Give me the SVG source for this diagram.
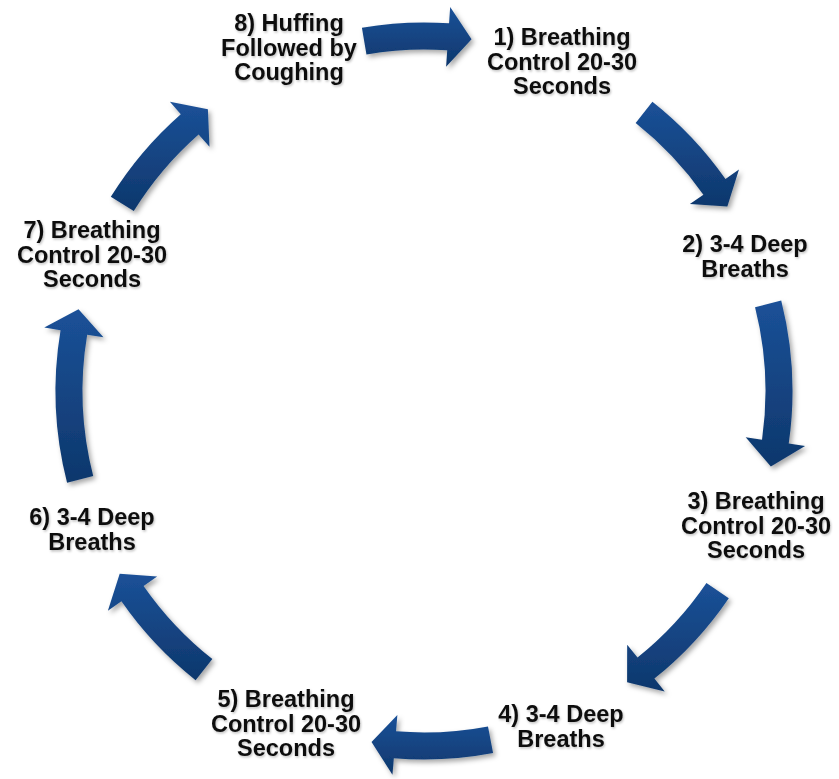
<svg xmlns="http://www.w3.org/2000/svg" width="839" height="779" viewBox="0 0 839 779">
<defs>
<linearGradient id="g" x1="0" y1="0" x2="0" y2="1">
<stop offset="0" stop-color="#1b5198"/>
<stop offset="1" stop-color="#0e376c"/>
</linearGradient>
<filter id="sh" x="-20%" y="-20%" width="140%" height="140%">
<feDropShadow dx="2.5" dy="3" stdDeviation="2.5" flood-color="#000" flood-opacity="0.35"/>
</filter>
<filter id="ts" x="-5%" y="-10%" width="110%" height="120%">
<feDropShadow dx="1" dy="1.5" stdDeviation="1" flood-color="#000" flood-opacity="0.25"/>
</filter>
</defs>
<style>
.arr{fill:url(#g);filter:url(#sh)}
.t{font-family:"Liberation Sans",Arial,sans-serif;font-weight:bold;font-size:23.5px;fill:#111;text-anchor:middle;filter:url(#ts)}
</style>
<rect width="839" height="779" fill="#fff"/>
<g id="connectors">
<path class="arr" d="M361.91,27.77 A368.5,368.5 0 0 1 449.06,23.35 L450.18,6.89 L471.57,39.2 L446.1,66.75 L447.22,50.29 A341.5,341.5 0 0 0 366.46,54.38 Z"/>
<path class="arr" d="M652.4,101.8 A368.5,368.5 0 0 1 725.47,179.11 L738.97,169.62 L727.35,206.58 L689.88,204.12 L703.38,194.64 A341.5,341.5 0 0 0 635.66,122.99 Z"/>
<path class="arr" d="M781.22,300.61 A368.5,368.5 0 0 1 788.74,443.55 L805.07,445.9 L770.84,466.62 L745.69,437.35 L762.02,439.7 A341.5,341.5 0 0 0 755.05,307.23 Z"/>
<path class="arr" d="M728.79,598.13 A368.5,368.5 0 0 1 654.39,678.58 L664.7,691.45 L627.1,682.17 L627.19,644.63 L637.51,657.51 A341.5,341.5 0 0 0 706.45,582.96 Z"/>
<path class="arr" d="M493.06,752.98 A368.5,368.5 0 0 1 393.82,758.25 L392.47,774.69 L371.53,742.1 L397.38,714.9 L396.03,731.34 A341.5,341.5 0 0 0 488,726.45 Z"/>
<path class="arr" d="M195.6,680.2 A368.5,368.5 0 0 1 121.42,601.3 L107.88,610.72 L119.69,573.83 L157.14,576.48 L143.59,585.89 A341.5,341.5 0 0 0 212.34,659.01 Z"/>
<path class="arr" d="M67.07,482.65 A368.5,368.5 0 0 1 60.55,330.2 L44.27,327.47 L78.51,309.35 L103.45,337.37 L87.18,334.65 A341.5,341.5 0 0 0 93.22,475.93 Z"/>
<path class="arr" d="M110.81,196.8 A368.5,368.5 0 0 1 180.79,114.15 L169.9,101.75 L207.88,109.34 L209.5,146.83 L198.61,134.43 A341.5,341.5 0 0 0 133.76,211.03 Z"/>
</g>
<g id="n1"><text class="t"><tspan x="562" y="45">1) Breathing</tspan><tspan x="562" y="69.5">Control 20-30</tspan><tspan x="562" y="94">Seconds</tspan></text></g>
<g id="n2"><text class="t"><tspan x="745" y="252">2) 3-4 Deep</tspan><tspan x="745" y="276.5">Breaths</tspan></text></g>
<g id="n3"><text class="t"><tspan x="756" y="509">3) Breathing</tspan><tspan x="756" y="533.5">Control 20-30</tspan><tspan x="756" y="558">Seconds</tspan></text></g>
<g id="n4"><text class="t"><tspan x="561" y="722">4) 3-4 Deep</tspan><tspan x="561" y="746.5">Breaths</tspan></text></g>
<g id="n5"><text class="t"><tspan x="286" y="707">5) Breathing</tspan><tspan x="286" y="731.5">Control 20-30</tspan><tspan x="286" y="756">Seconds</tspan></text></g>
<g id="n6"><text class="t"><tspan x="92" y="525">6) 3-4 Deep</tspan><tspan x="92" y="549.5">Breaths</tspan></text></g>
<g id="n7"><text class="t"><tspan x="92" y="238">7) Breathing</tspan><tspan x="92" y="262.5">Control 20-30</tspan><tspan x="92" y="287">Seconds</tspan></text></g>
<g id="n8"><text class="t"><tspan x="289" y="31">8) Huffing</tspan><tspan x="289" y="55.5">Followed by</tspan><tspan x="289" y="80">Coughing</tspan></text></g>
</svg>
